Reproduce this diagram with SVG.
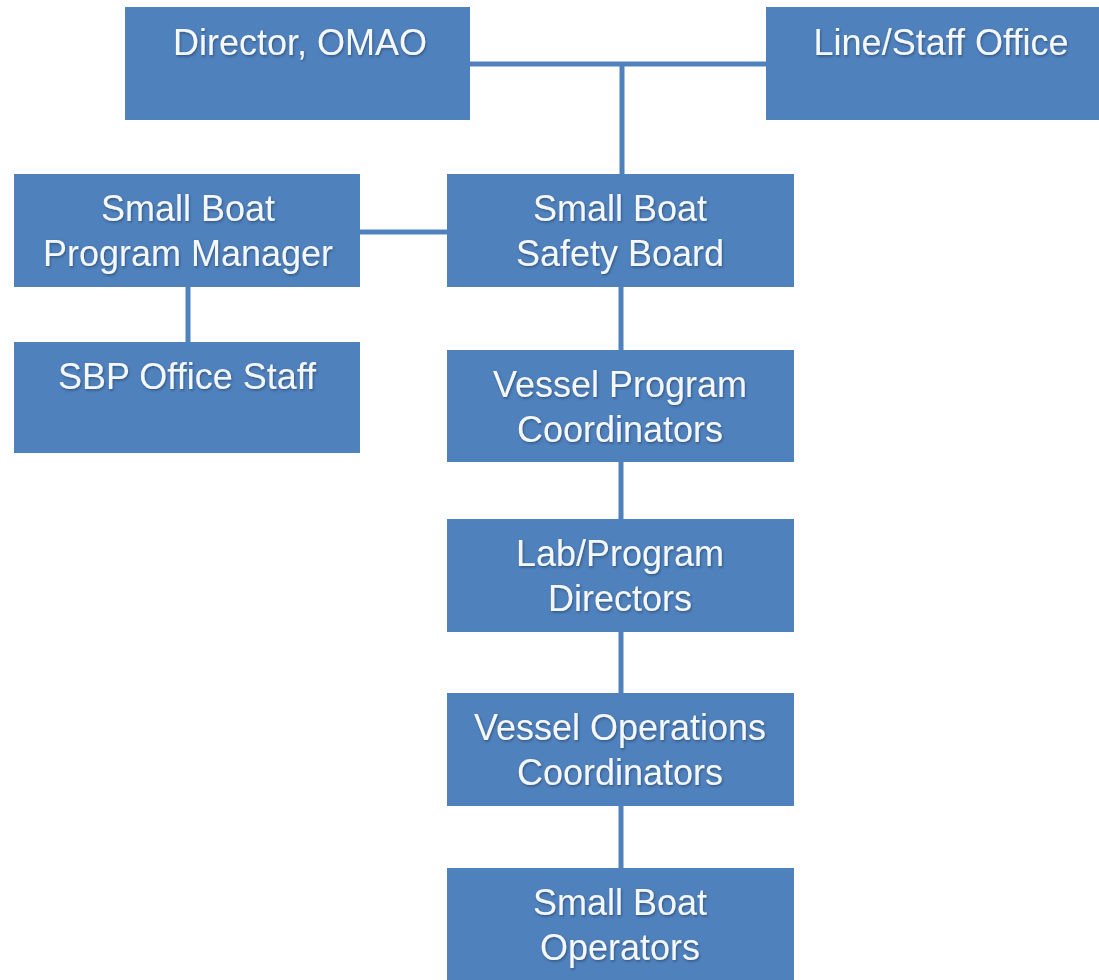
<svg xmlns="http://www.w3.org/2000/svg" width="1099" height="980" viewBox="0 0 1099 980">
  <defs>
    <filter id="ts" x="-10%" y="-30%" width="120%" height="160%">
      <feDropShadow dx="1" dy="1.5" stdDeviation="1" flood-color="#1f3550" flood-opacity="0.55"/>
    </filter>
  </defs>
  <style>
    .box { fill: #4F81BD; }
    .lbl { font-family: "Liberation Sans", Arial, sans-serif; font-size: 36px; fill: #F4F8FC; text-anchor: middle; filter: url(#ts); }
    .conn line { stroke: #4F81BD; stroke-width: 5; fill: none; }
  </style>
  <rect width="1099" height="980" fill="#FFFFFF"/>

  <g id="connectors" class="conn">
    <line x1="470" y1="64" x2="766" y2="64"/>
    <line x1="622" y1="64" x2="622" y2="174"/>
    <line x1="360" y1="232" x2="447" y2="232"/>
    <line x1="188" y1="287" x2="188" y2="342"/>
    <line x1="621" y1="287" x2="621" y2="350"/>
    <line x1="621" y1="462" x2="621" y2="519"/>
    <line x1="621" y1="632" x2="621" y2="693"/>
    <line x1="621" y1="806" x2="621" y2="868"/>
  </g>

  <g id="director">
    <rect class="box" x="125" y="7" width="345" height="113"/>
    <text class="lbl" x="300" y="55">Director, OMAO</text>
  </g>
  <g id="line-staff">
    <rect class="box" x="766" y="7" width="340" height="113"/>
    <text class="lbl" x="941" y="55">Line/Staff Office</text>
  </g>
  <g id="sb-program-manager">
    <rect class="box" x="14" y="174" width="346" height="113"/>
    <text class="lbl" x="188" y="221">Small Boat</text>
    <text class="lbl" x="188" y="266">Program Manager</text>
  </g>
  <g id="sbp-office-staff">
    <rect class="box" x="14" y="342" width="346" height="111"/>
    <text class="lbl" x="187" y="389">SBP Office Staff</text>
  </g>
  <g id="sb-safety-board">
    <rect class="box" x="447" y="174" width="347" height="113"/>
    <text class="lbl" x="620" y="221">Small Boat</text>
    <text class="lbl" x="620" y="266">Safety Board</text>
  </g>
  <g id="vessel-program-coordinators">
    <rect class="box" x="447" y="350" width="347" height="112"/>
    <text class="lbl" x="620" y="397">Vessel Program</text>
    <text class="lbl" x="620" y="442">Coordinators</text>
  </g>
  <g id="lab-program-directors">
    <rect class="box" x="447" y="519" width="347" height="113"/>
    <text class="lbl" x="620" y="566">Lab/Program</text>
    <text class="lbl" x="620" y="611">Directors</text>
  </g>
  <g id="vessel-operations-coordinators">
    <rect class="box" x="447" y="693" width="347" height="113"/>
    <text class="lbl" x="620" y="740">Vessel Operations</text>
    <text class="lbl" x="620" y="785">Coordinators</text>
  </g>
  <g id="small-boat-operators">
    <rect class="box" x="447" y="868" width="347" height="112"/>
    <text class="lbl" x="620" y="915">Small Boat</text>
    <text class="lbl" x="620" y="960">Operators</text>
  </g>
</svg>
